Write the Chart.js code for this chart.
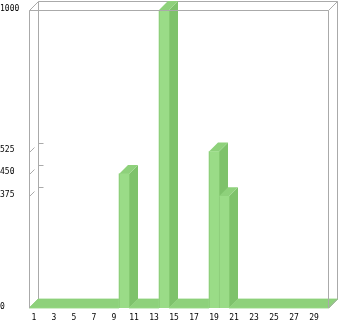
<!DOCTYPE html>
<html>
<head>
<meta charset="utf-8">
<script src="https://cdn.jsdelivr.net/npm/chart.js@4/dist/chart.umd.min.js"></script>
<style>
  html, body { margin: 0; padding: 0; background: #ffffff; }
  #wrap { width: 340px; height: 321px; }
</style>
</head>
<body>
<div id="wrap"><canvas id="c" width="340" height="321"></canvas></div>
<script>
// Categories 1..30
const categories = ['1','2','3','4','5','6','7','8','9','10','11','12','13','14','15',
                    '16','17','18','19','20','21','22','23','24','25','26','27','28','29','30'];
// Values per category
const values = [0,0,0,0,0,0,0,0,0,450,0,0,0,1000,0,0,0,0,525,375,0,0,0,0,0,0,0,0,0,0];
// Y-axis tick labels
const yTicks = [0, 375, 450, 525, 1000];

const FRONT = '#9adc87';
const SIDE = '#7ec26b';
const TOP = '#8ed17b';
const EDGE = '#8fcf7c';
const LINE = '#aaaaaa';
const DX = 9, DY = 9;

function line(ctx, x1, y1, x2, y2) {
  ctx.beginPath();
  ctx.moveTo(x1, y1);
  ctx.lineTo(x2, y2);
  ctx.stroke();
}
function poly(ctx, pts, color, seal) {
  ctx.beginPath();
  ctx.moveTo(pts[0][0], pts[0][1]);
  for (let i = 1; i < pts.length; i++) ctx.lineTo(pts[i][0], pts[i][1]);
  ctx.closePath();
  ctx.fillStyle = color;
  ctx.fill();
  if (seal) {
    // close anti-aliasing seams between neighbouring faces
    ctx.strokeStyle = color;
    ctx.lineWidth = 0.8;
    ctx.stroke();
  }
}

// Draws the back wall, the depth faces of each bar and the front frame
const depthBars = {
  id: 'depthBars',
  beforeDatasetsDraw(chart) {
    const { ctx, chartArea: a, scales } = chart;
    const L = Math.round(a.left) + 0.5, R = Math.round(a.right) - 0.5;
    const T = Math.round(a.top) + 0.5, B = Math.round(a.bottom);
    ctx.save();
    ctx.strokeStyle = LINE;
    ctx.lineWidth = 1;
    // back wall
    line(ctx, L + DX, T - DY, R + DX, T - DY);
    line(ctx, L + DX, T - DY, L + DX, B - DY);
    line(ctx, R + DX, T - DY, R + DX, B - DY);
    // tick marks on the back wall and slants on the left side
    yTicks.forEach(v => {
      if (v === 0 || v === 1000) return;
      const y = Math.round(scales.y.getPixelForValue(v)) + 0.5;
      line(ctx, L + DX, y - DY, L + DX + 5, y - DY);
      line(ctx, L, y, L + 5, y - 5);
    });
    // side and top faces of each bar, left to right
    const meta = chart.getDatasetMeta(0);
    meta.data.forEach(bar => {
      const x0 = bar.x - bar.width / 2, x1 = bar.x + bar.width / 2;
      const top = bar.y, base = bar.base;
      const raised = base - top > 0;
      if (raised) {
        poly(ctx, [[x1, top], [x1 + DX, top - DY], [x1 + DX, base - DY], [x1, base]], SIDE, false);
      }
      poly(ctx, [[x0, top], [x1, top], [x1 + DX, top - DY], [x0 + DX, top - DY]], TOP, !raised);
    });
    ctx.restore();
  },
  afterDatasetsDraw(chart) {
    const { ctx, chartArea: a } = chart;
    const L = Math.round(a.left) + 0.5, R = Math.round(a.right) - 0.5;
    const T = Math.round(a.top) + 0.5, B = Math.round(a.bottom);
    ctx.save();
    // thin seam on the left edge of each raised bar's front face
    ctx.strokeStyle = EDGE;
    ctx.lineWidth = 1;
    chart.getDatasetMeta(0).data.forEach(bar => {
      if (bar.base - bar.y > 0) {
        const x = Math.round(bar.x - bar.width / 2) + 0.5;
        line(ctx, x, bar.y, x, bar.base);
      }
    });
    ctx.strokeStyle = LINE;
    // front frame and connecting edges
    line(ctx, L, T, R, T);
    line(ctx, L, T, L, B);
    line(ctx, R, T, R, B);
    line(ctx, L, T, L + DX, T - DY);
    line(ctx, R, T, R + DX, T - DY);
    line(ctx, R, B, R + DX, B - DY);
    ctx.restore();
  }
};

const font = { family: '"DejaVu Sans Mono", monospace', size: 8 };

new Chart(document.getElementById('c'), {
  type: 'bar',
  data: {
    labels: categories,
    datasets: [{
      data: values,
      backgroundColor: FRONT,
      borderWidth: 0,
      barPercentage: 1,
      categoryPercentage: 1
    }]
  },
  options: {
    responsive: false,
    animation: false,
    layout: { padding: { top: 10, right: 11, left: 0, bottom: 0 } },
    plugins: { legend: { display: false }, tooltip: { enabled: false } },
    scales: {
      x: {
        grid: { display: false, drawTicks: false },
        border: { display: false },
        ticks: {
          font, color: '#000', maxRotation: 0, autoSkip: false, padding: 5,
          callback: (v, i) => (i % 2 === 0 ? categories[i] : '')
        },
        afterFit(s) { s.height = 13; }
      },
      y: {
        min: 0, max: 1000,
        grid: { display: false, drawTicks: false },
        border: { display: false },
        afterBuildTicks(s) { s.ticks = yTicks.map(v => ({ value: v })); },
        ticks: {
          font, color: '#000', crossAlign: 'far', padding: 0, labelOffset: -1.5,
          callback: v => String(v)
        },
        afterFit(s) { s.width = 29; }
      }
    }
  },
  plugins: [depthBars]
});
</script>
</body>
</html>
